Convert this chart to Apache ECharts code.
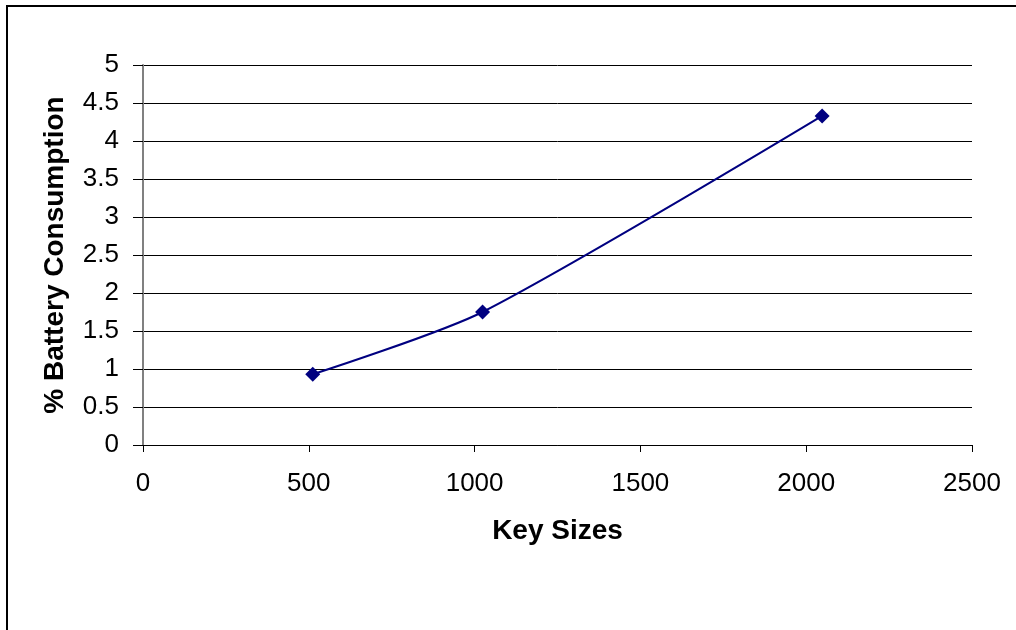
<!DOCTYPE html>
<html>
<head>
<meta charset="utf-8">
<script src="https://cdn.jsdelivr.net/npm/echarts@6/dist/echarts.min.js"></script>
<style>
  html, body { margin: 0; padding: 0; background: #fff; }
  #chart { width: 1016px; height: 630px; }
</style>
</head>
<body>
<div id="chart"></div>
<script>
// Key sizes (bits) and measured battery consumption (%)
const keySizes = [512, 1024, 2048];
const batteryConsumption = [0.93, 1.75, 4.33];
const xTicks = [0, 500, 1000, 1500, 2000, 2500];
const yTicks = [0, 0.5, 1, 1.5, 2, 2.5, 3, 3.5, 4, 4.5, 5];

const points = keySizes.map((k, i) => [k, batteryConsumption[i]]);
const font = '"Liberation Sans", Arial, sans-serif';

const chart = echarts.init(document.getElementById('chart'), null, { renderer: 'canvas' });
chart.setOption({
  animation: false,
  backgroundColor: '#ffffff',
  graphic: [{
    type: 'rect',
    shape: { x: 7, y: 6, width: 1020, height: 700 },
    style: { fill: 'none', stroke: '#000', lineWidth: 2 },
    silent: true
  }],
  grid: { left: 143, right: 44, top: 65, bottom: 185 },
  xAxis: {
    type: 'value',
    min: xTicks[0],
    max: xTicks[xTicks.length - 1],
    interval: 500,
    name: 'Key Sizes',
    nameLocation: 'middle',
    nameGap: 72,
    nameTextStyle: { fontFamily: font, fontSize: 28, fontWeight: 'bold', color: '#000' },
    axisLine: { show: true, lineStyle: { color: '#000', width: 1 } },
    axisTick: { show: true, inside: false, length: 7, lineStyle: { color: '#000' } },
    axisLabel: { fontFamily: font, fontSize: 26, color: '#000', margin: 26, formatter: v => String(v) },
    splitLine: { show: false }
  },
  yAxis: {
    type: 'value',
    min: yTicks[0],
    max: yTicks[yTicks.length - 1],
    interval: 0.5,
    name: '% Battery Consumption',
    nameLocation: 'middle',
    nameGap: 74,
    nameRotate: 90,
    nameTextStyle: { fontFamily: font, fontSize: 28, fontWeight: 'bold', color: '#000' },
    axisLine: { show: true, lineStyle: { color: '#808080', width: 2 } },
    axisTick: { show: true, inside: false, length: 10, lineStyle: { color: '#000' } },
    axisLabel: { fontFamily: font, fontSize: 26, color: '#000', margin: 24, formatter: v => String(v) },
    splitLine: { show: true, lineStyle: { color: '#000', width: 1 } }
  },
  series: [{
    type: 'line',
    data: points,
    smooth: 0.25,
    symbol: 'diamond',
    symbolSize: 15,
    itemStyle: { color: '#000080' },
    lineStyle: { color: '#000080', width: 2 }
  }]
});
</script>
</body>
</html>
